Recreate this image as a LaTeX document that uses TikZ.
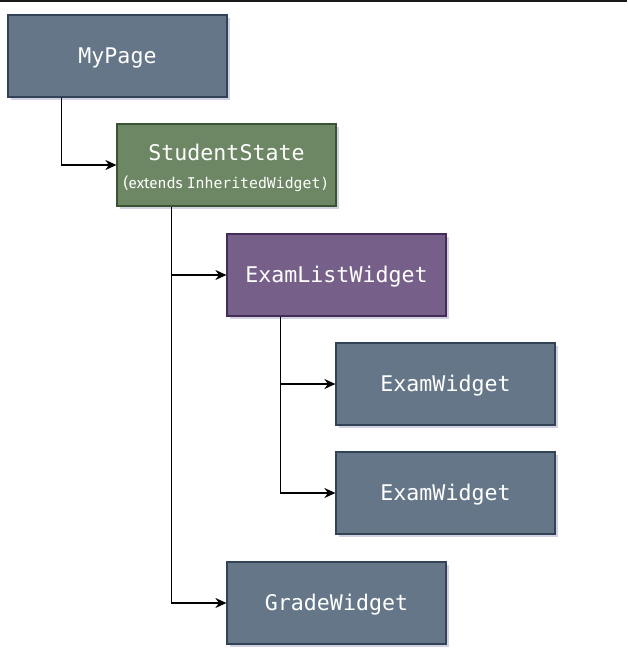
\documentclass[tikz,border=0pt]{standalone}
\usepackage{fontspec}
\setmainfont{Fira Sans}
\setmonofont{DejaVu Sans Mono}
\usetikzlibrary{arrows.meta,shadows,positioning}
\definecolor{slatefill}{HTML}{647687}
\definecolor{slatedraw}{HTML}{314354}
\definecolor{greenfill}{HTML}{6D8764}
\definecolor{greendraw}{HTML}{3A5431}
\definecolor{purplefill}{HTML}{76608A}
\definecolor{purpledraw}{HTML}{432D57}
\tikzset{
  box/.style={rectangle, minimum width=219pt, minimum height=82pt, inner sep=0pt,
    line width=1.2pt, text=white, font=\ttfamily\fontsize{21.6}{25}\selectfont,
    text height=19pt, text depth=4.5pt,
    drop shadow={shadow xshift=2.5pt, shadow yshift=-3pt, opacity=0.18, fill=black!60!blue}},
  slate/.style={box, fill=slatefill, draw=slatedraw},
  greenbox/.style={box, fill=greenfill, draw=greendraw, text height=, text depth=},
  purplebox/.style={box, fill=purplefill, draw=purpledraw},
  conn/.style={line width=1.4pt, draw=black, -{Stealth[length=11pt,width=10pt,inset=3.5pt]}}
}
\begin{document}
\begin{tikzpicture}[x=1pt,y=-1pt]
\useasboundingbox (0,0) rectangle (627,663);
\fill[black!90] (0,0) rectangle (627,1.6);
\node[slate] (mypage) at (117.5,56) {MyPage};
\node[greenbox, align=center] (student) at (226.5,165)
  {\rule{0pt}{23pt}StudentState\\[3pt]{\rmfamily\fontsize{15.2}{18}\selectfont (extends \ttfamily\fontsize{14.8}{18}\selectfont InheritedWidget)}};
\node[purplebox] (examlist) at (336.5,275) {ExamListWidget};
\node[slate] (exam1) at (445.5,384) {ExamWidget};
\node[slate] (exam2) at (445.5,493) {ExamWidget};
\node[slate] (grade) at (336.5,603) {GradeWidget};
\draw[conn] ([xshift=54pt]mypage.south west) |- (student.west);
\draw[conn] ([xshift=55pt]student.south west) |- (examlist.west);
\draw[conn] ([xshift=55pt]student.south west) |- (grade.west);
\draw[conn] ([xshift=54pt]examlist.south west) |- (exam1.west);
\draw[conn] ([xshift=54pt]examlist.south west) |- (exam2.west);
\end{tikzpicture}
\end{document}
